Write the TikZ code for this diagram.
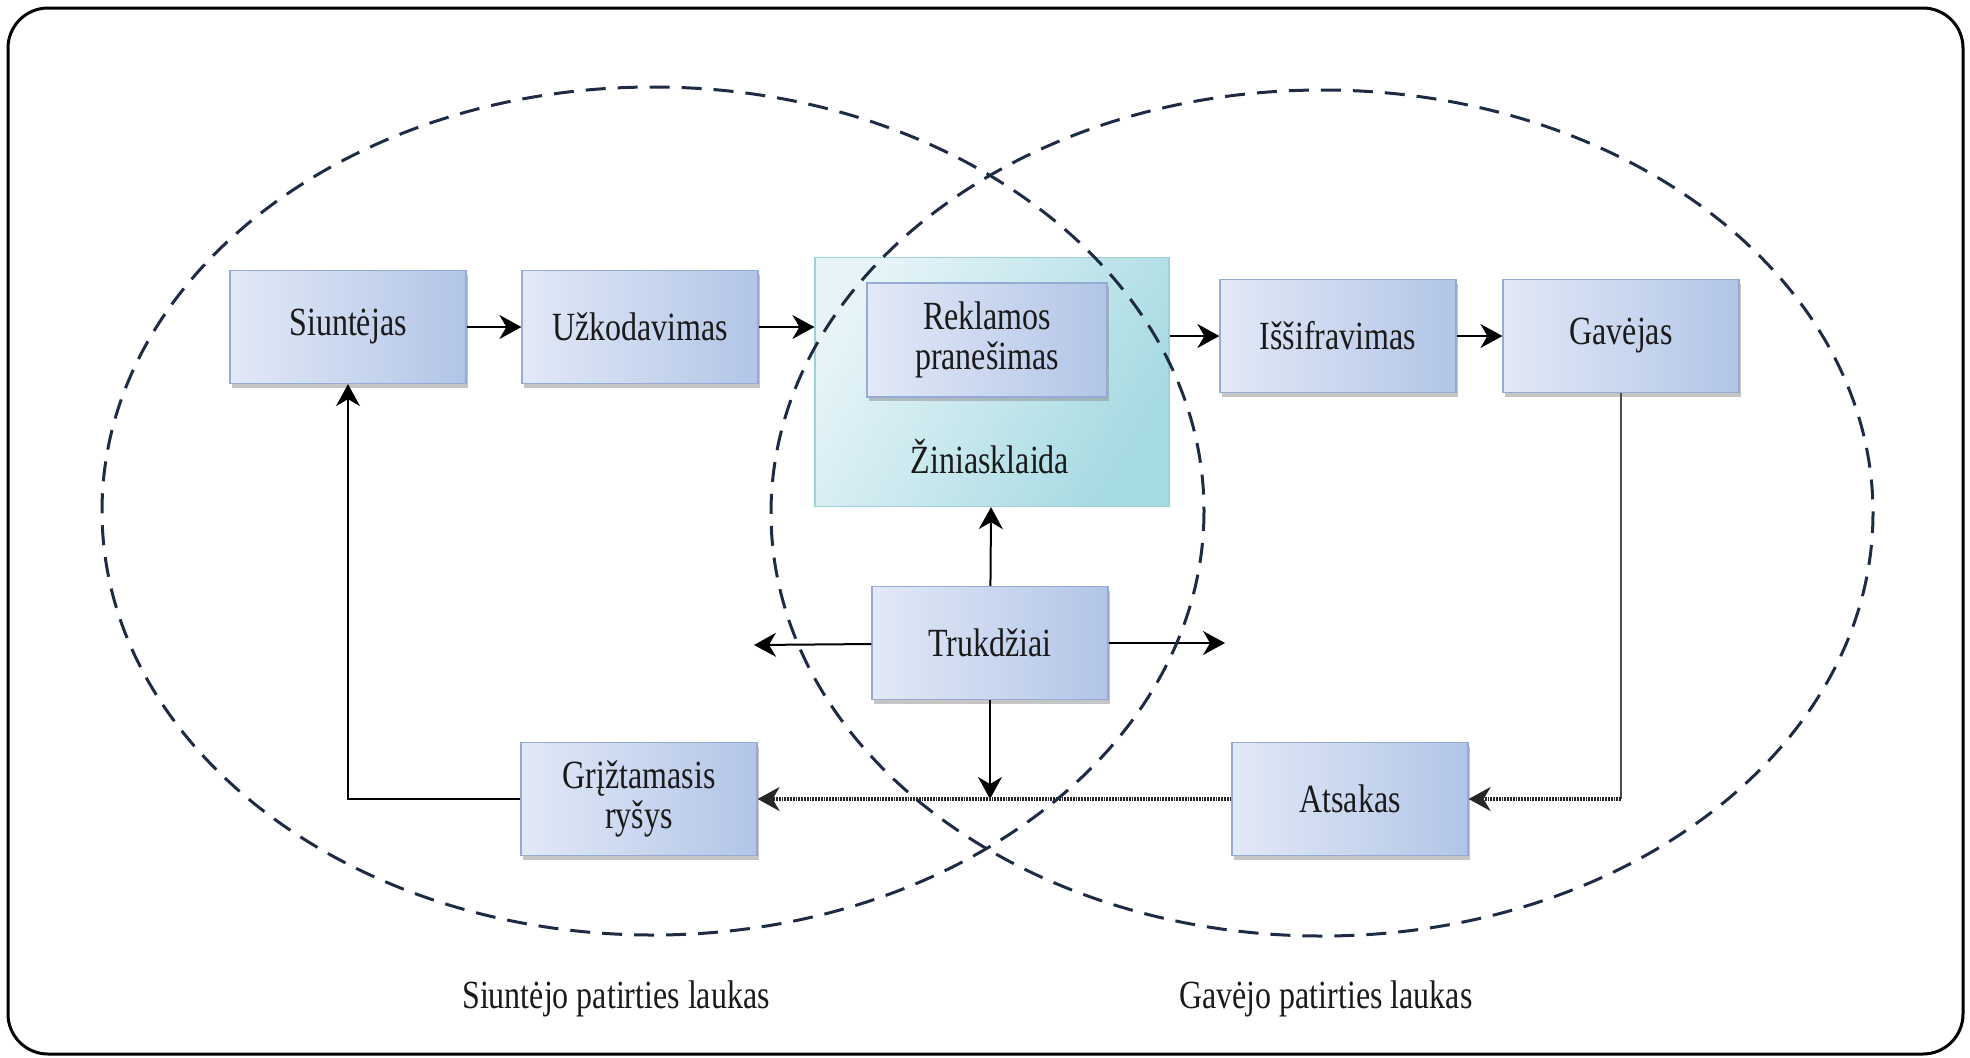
\documentclass[tikz,border=0pt]{standalone}
\usepackage{fontspec}
\setmainfont{Liberation Serif}[FakeStretch=0.8]
\usetikzlibrary{arrows.meta,shadows}
\definecolor{boxL}{HTML}{E2E9F7}
\definecolor{boxM}{HTML}{DAE3F4}
\definecolor{boxR}{HTML}{B2C5E7}
\definecolor{boxedge}{HTML}{95ABD5}
\definecolor{zinL}{HTML}{E6F4F8}
\definecolor{zinR}{HTML}{A6DAE2}
\definecolor{zinedge}{HTML}{9CCFD8}
\definecolor{ringcol}{HTML}{1E2B45}
\definecolor{txtcol}{HTML}{1A1A1A}
\tikzset{
  blk/.style={draw=boxedge, line width=0.6pt, left color=boxL, middle color=boxM,
    right color=boxR, minimum width=118pt, minimum height=56.5pt, inner sep=2pt,
    align=center, text=txtcol,
    drop shadow={shadow xshift=0.8pt, shadow yshift=-2pt, fill=black!45, opacity=.5}},
  zin/.style={draw=zinedge, line width=0.6pt, shading=axis, left color=zinL,
    right color=zinR, shading angle=60, minimum width=177pt, minimum height=124.5pt},
  ring/.style={draw=ringcol, line width=1.5pt, dash pattern=on 10pt off 6pt},
  arr/.style={-{Stealth[length=11pt,width=12pt,inset=3.5pt]}, line width=1pt},
  thinln/.style={line width=0.6pt, black!70},
  dotln/.style={line width=1.6pt, black!85, dash pattern=on 0.9pt off 0.5pt},
  lbl/.style={text=txtcol}
}
\begin{document}
\begin{tikzpicture}[x=0.5pt, y=-0.5pt, font=\fontsize{20}{23}\selectfont]
  \useasboundingbox (0,0) rectangle (1970,1057);
  \draw[line width=1.5pt, rounded corners=20pt] (8,8) rectangle (1963,1054);

  % media block with the message inside
  \node[zin] (media) at (992,382) {};
  \node[blk, minimum width=120pt, minimum height=57pt] (message) at (987,340) {Reklamos\\[-3pt]pranešimas};
  \node[lbl] (zinlbl) at (990,457) {Žiniasklaida};

  % top row
  \node[blk] (sender)   at (348,327)  {Siuntėjas};
  \node[blk] (encode)   at (640,327)  {Užkodavimas};
  \node[blk] (decode)   at (1338,336) {Iššifravimas};
  \node[blk] (receiver) at (1621,336) {Gavėjas};
  % noise and return row
  \node[blk] (noise)    at (990,643)  {Trukdžiai};
  \node[blk] (feedback) at (639,799)  {Grįžtamasis\\[-3pt]ryšys};
  \node[blk] (response) at (1350,799) {Atsakas};

  \coordinate (nL) at (754,645);
  \coordinate (nR) at (1225,643);
  \coordinate (jR) at (receiver.south |- response.east);
  \coordinate (jN) at (noise.south |- feedback.east);

  % forward path
  \draw[arr] (sender) -- (encode);
  \draw[arr] (encode) -- (media.west |- encode);
  \draw[arr] (media.east |- decode) -- (decode);
  \draw[arr] (decode) -- (receiver);
  % noise
  \draw[arr] (noise) -- (media);
  \draw[arr] (noise) -- (nL);
  \draw[arr] (noise) -- (nR);
  \draw[arr] (noise) -- (jN);
  % feedback loop
  \draw[thinln] (receiver.south) -- (jR);
  \draw[dotln, arr, line width=1.6pt] (jR) -- (response.east);
  \draw[dotln, arr, line width=1.6pt] (response.west) -- (feedback.east);
  \draw[thinln, arr, line width=0.6pt, black] (feedback.west) -| (sender.south);

  % fields of experience
  \draw[ring] (653,511) ellipse (551 and 424);
  \draw[ring] (1322,513) ellipse (551 and 423);
  \node[lbl] (lblS) at (616,999)  {Siuntėjo patirties laukas};
  \node[lbl] (lblG) at (1326,999) {Gavėjo patirties laukas};
\end{tikzpicture}
\end{document}
